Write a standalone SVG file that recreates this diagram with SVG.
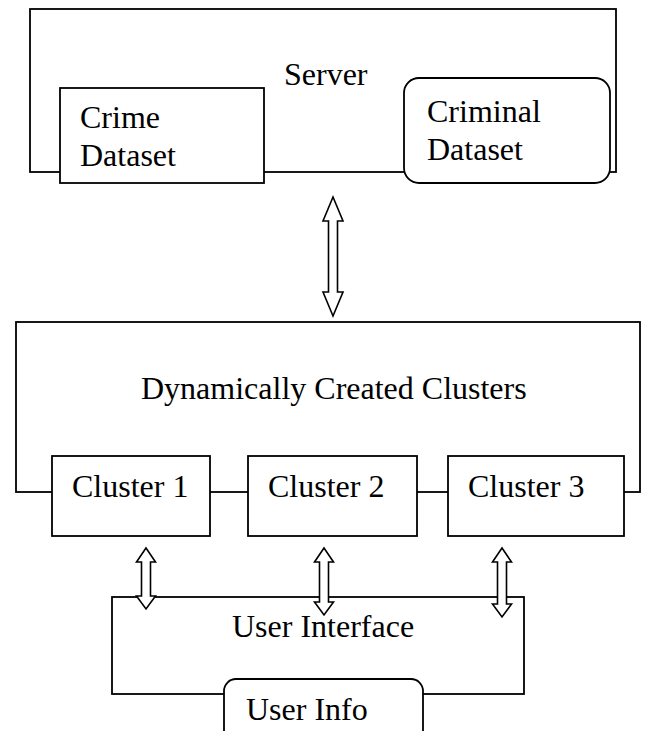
<svg xmlns="http://www.w3.org/2000/svg" width="654" height="731" viewBox="0 0 654 731">
<style>
.box{fill:#fff;stroke:#000;stroke-width:1.8}
.arr{fill:#fff;stroke:#000;stroke-width:1.6;stroke-linejoin:miter}
text{font-family:"Liberation Serif","Times New Roman",serif;font-size:32px;fill:#000}
</style>
<rect width="654" height="731" fill="#fff"/>
<g id="server">
<rect class="box" x="30" y="9" width="586" height="163"/>
<text x="284" y="85">Server</text>
</g>
<g id="crime-dataset">
<rect class="box" x="60" y="88" width="204" height="95"/>
<text x="80" y="128">Crime</text>
<text x="80" y="166">Dataset</text>
</g>
<g id="criminal-dataset">
<rect class="box" x="404" y="78" width="206" height="105" rx="15" ry="15"/>
<text x="427" y="122">Criminal</text>
<text x="427" y="160">Dataset</text>
</g>
<g id="clusters">
<rect class="box" x="16" y="322" width="624" height="170"/>
<text x="141" y="399">Dynamically Created Clusters</text>
</g>
<g id="cluster1">
<rect class="box" x="52" y="456" width="158" height="80"/>
<text x="72" y="497">Cluster 1</text>
</g>
<g id="cluster2">
<rect class="box" x="248" y="456" width="169" height="80"/>
<text x="268" y="497">Cluster 2</text>
</g>
<g id="cluster3">
<rect class="box" x="448" y="456" width="176" height="80"/>
<text x="468" y="497">Cluster 3</text>
</g>
<g id="user-interface">
<rect class="box" x="112" y="597" width="412" height="97"/>
<text x="232" y="637">User Interface</text>
</g>
<g id="user-info">
<rect class="box" x="224" y="679" width="199" height="70" rx="12" ry="12"/>
<text x="246" y="720">User Info</text>
</g>
<g id="connectors">
<polygon class="arr" points="333,197 343,221 337.5,221 337.5,292 343,292 333,316 323,292 328.5,292 328.5,221 323,221"/>
<polygon class="arr" points="146,548 155.5,562 150.5,562 150.5,596 155.5,596 146,609 136.5,596 141.5,596 141.5,562 136.5,562"/>
<polygon class="arr" points="324,548 333.5,562 328.5,562 328.5,602 333.5,602 324,615 314.5,602 319.5,602 319.5,562 314.5,562"/>
<polygon class="arr" points="502,548 511.5,562 506.5,562 506.5,604 511.5,604 502,617 492.5,604 497.5,604 497.5,562 492.5,562"/>
</g>
</svg>
